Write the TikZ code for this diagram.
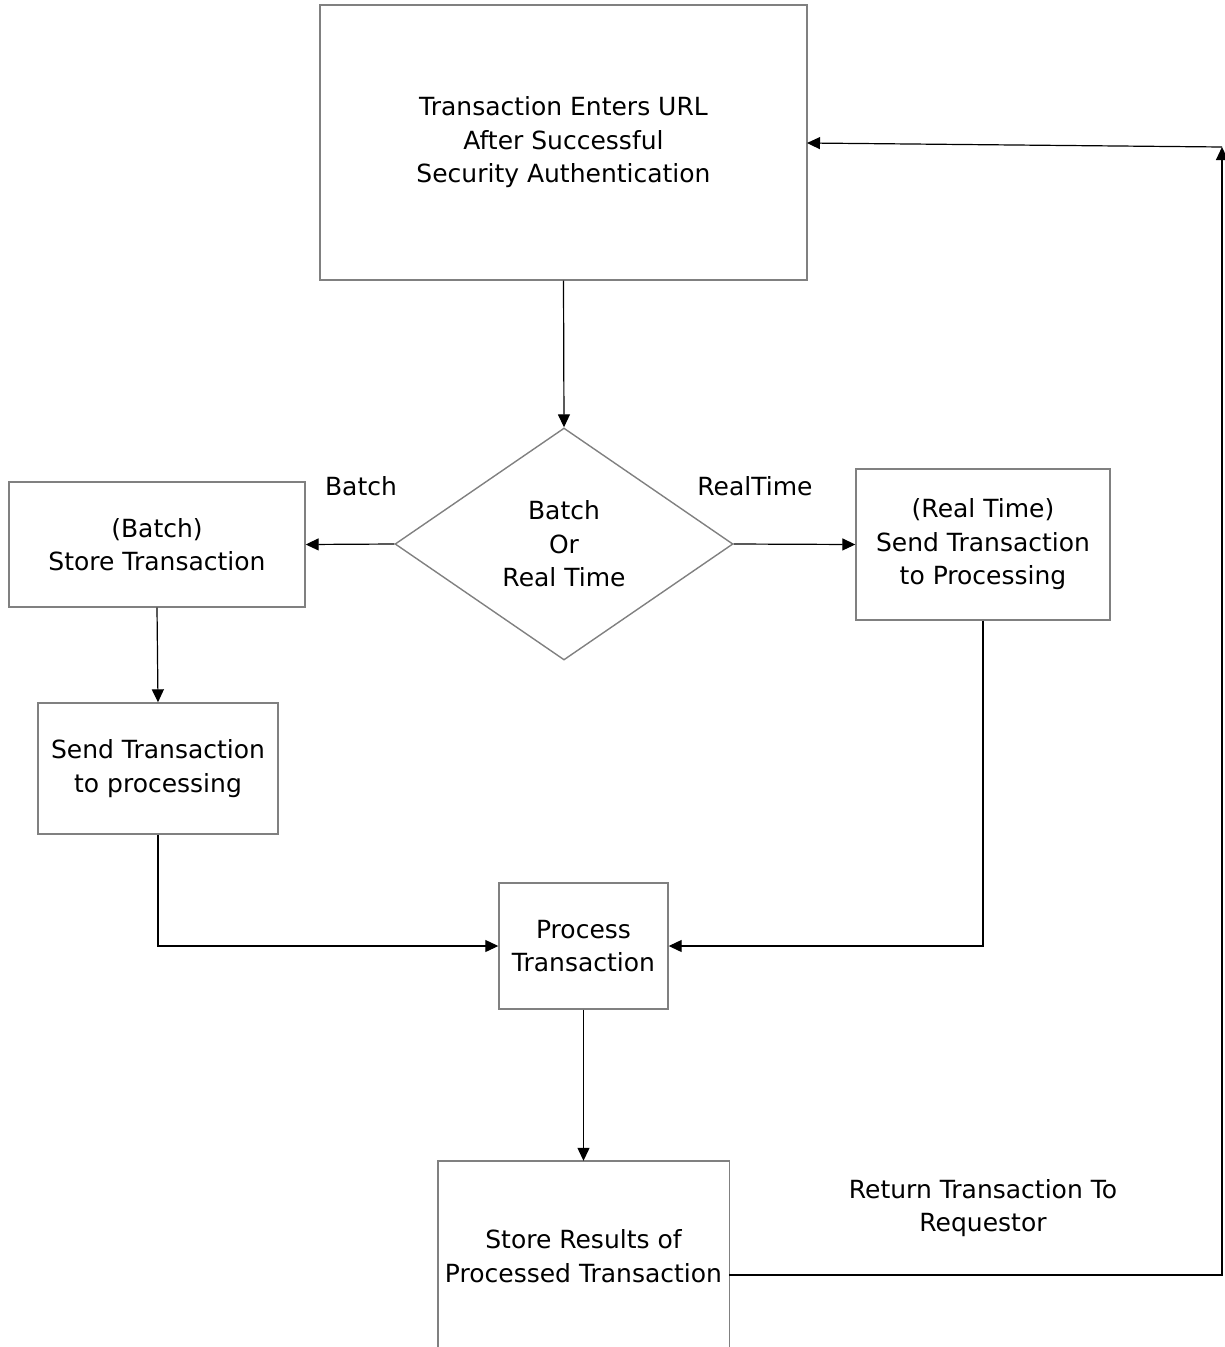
\documentclass[tikz,border=0pt]{standalone}
\usepackage{fontspec}
\setmainfont{DejaVu Sans}
\usetikzlibrary{shapes.geometric,arrows.meta}
\begin{document}
\begin{tikzpicture}[x=1pt,y=-1pt,
  every node/.style={font=\fontsize{25}{33.5}\selectfont, align=center, inner sep=0pt},
  boxnode/.style={draw=black!50, line width=1.4pt, minimum width=#1},
  conn/.style={draw=black, line width=1.2pt},
  arr/.style={conn, -{Triangle[length=13pt,width=12pt]}},
  lbl/.style={}
]
\useasboundingbox (0,0) rectangle (1225,1347);
\node[boxnode=487pt, minimum height=275pt] (top) at (563.5,142.5) {Transaction Enters URL\\After Successful\\Security Authentication};
\node[draw=black!50, line width=1.4pt, diamond, minimum width=338pt, minimum height=232pt] (dec) at (564,544) {Batch\\Or\\Real Time};
\node[boxnode=296pt, minimum height=125pt] (bstore) at (157,544.5) {(Batch)\\Store Transaction};
\node[boxnode=254pt, minimum height=151pt] (rsend) at (983,544.5) {(Real Time)\\Send Transaction\\to Processing};
\node[boxnode=240pt, minimum height=131pt] (bsend) at (158,768.5) {Send Transaction\\to processing};
\node[boxnode=169pt, minimum height=126pt] (proc) at (583.5,946) {Process\\Transaction};
\node[minimum width=291pt, minimum height=190pt] (store) at (583.5,1256) {Store Results of\\Processed Transaction};
\draw[draw=black!50, line width=1.4pt] (store.south west) -- (store.north west) -- (store.north east) -- (store.south east);
\node[lbl] (lbatch) at (361,486) {Batch};
\node[lbl] (lreal) at (755,486) {RealTime};
\node[lbl] (lret) at (983,1208) {Return Transaction To\\Requestor};
\coordinate (c1) at (1222,1275);
\coordinate (c2) at (1222,147);
\coordinate (c3) at (807,143);
\coordinate (s1) at (729,1275);
\draw[arr] (top.south) -- (dec.north);
\draw[arr] (dec.west) -- (bstore.east);
\draw[arr] (dec.east) -- (rsend.west);
\draw[arr] (bstore.south) -- (bsend.north);
\draw[arr] (bsend.south) |- (proc.west);
\draw[arr] (rsend.south) |- (proc.east);
\draw[arr] (proc.south) -- (store.north);
\draw[arr] (s1) -- (c1) -- (c2);
\draw[arr] (c2) -- (c3);
\end{tikzpicture}
\end{document}
